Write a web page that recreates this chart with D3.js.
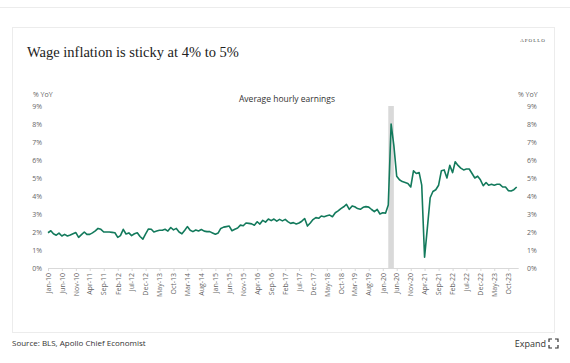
<!DOCTYPE html>
<html>
    <head>
        <meta charset="utf-8" />
        <title>Wage inflation is sticky at 4% to 5%</title>
        <script src="https://d3js.org/d3.v7.min.js"></script>
        <style>
            body {
                margin: 0;
                background: #fff;
            }
            * {
                font-family: 'Open Sans', 'Liberation Sans', sans-serif;
            }
            .tick-label {
                font-size: 7px;
                fill: #666;
            }
        </style>
    </head>
    <body>
        <svg id="chart" width="570" height="363"></svg>
        <script>
            // monthly series, Jan-10 .. Jan-24, % YoY
            const startMonth = '2010-01';
            const earnings = [
                1.96, 2.07, 1.9, 1.82, 1.94, 1.78, 1.87, 1.78, 1.83, 1.9, 1.97, 1.7,
                1.85, 2.0, 1.87, 1.87, 1.95, 2.06, 2.2, 2.15, 2.0, 2.0, 2.0, 1.98,
                1.96, 1.7, 1.8, 2.15, 1.89, 1.95, 1.8, 1.9, 1.96, 1.75, 1.6, 1.9,
                2.17, 2.15, 2.0, 2.05, 2.1, 2.1, 2.15, 2.05, 2.25, 2.12, 2.2, 2.0,
                1.9, 2.1, 2.3, 2.1, 2.02, 2.11, 2.06, 2.14, 2.05, 2.02, 2.02, 1.95,
                1.88, 1.95, 2.2, 2.27, 2.3, 2.33, 2.07, 2.15, 2.22, 2.38, 2.35, 2.5,
                2.48, 2.45, 2.38, 2.57, 2.44, 2.65, 2.55, 2.72, 2.63, 2.72, 2.6, 2.7,
                2.62, 2.7, 2.58, 2.48, 2.52, 2.45, 2.5, 2.6, 2.75, 2.33, 2.5, 2.69,
                2.8, 2.76, 2.89, 2.85, 2.9, 2.94, 2.85, 3.07, 3.17, 3.3, 3.4, 3.54,
                3.26, 3.45, 3.4, 3.3, 3.26, 3.37, 3.41, 3.38, 3.25, 3.13, 3.26, 3.0,
                3.07, 3.05, 3.5, 8.0, 6.8, 5.1, 4.9, 4.8, 4.75, 4.7, 4.5, 5.4,
                5.25, 5.3, 4.6, 0.6, 2.2, 3.9, 4.25, 4.35, 4.6, 5.4, 5.45, 5.0,
                5.7, 5.3, 5.9, 5.7, 5.55, 5.45, 5.5, 5.5, 5.25, 5.0, 5.1, 4.9,
                4.57, 4.75, 4.6, 4.65, 4.6, 4.65, 4.65, 4.5, 4.5, 4.3, 4.28, 4.35,
                4.5
            ];
            const recession = ['2020-03', '2020-04'];
            const yTicks = [0, 1, 2, 3, 4, 5, 6, 7, 8, 9];
            const tickEvery = 5; // months between x labels

            const title = 'Wage inflation is sticky at 4% to 5%';
            const subtitle = 'Average hourly earnings';
            const source = 'Source: BLS, Apollo Chief Economist';

            const parseMonth = d3.timeParse('%Y-%m');
            const start = parseMonth(startMonth);
            const data = earnings.map((v, i) => ({ date: d3.timeMonth.offset(start, i), value: v }));

            const svg = d3.select('#chart');

            // page frame
            svg.append('line').attr('x1', 0).attr('x2', 570).attr('y1', 7.5).attr('y2', 7.5).attr('stroke', '#ececec');
            svg.append('rect')
                .attr('x', 12.5).attr('y', 27.5).attr('width', 542).attr('height', 305)
                .attr('fill', '#fff').attr('stroke', '#ececec');

            svg.append('text')
                .attr('x', 27).attr('y', 57)
                .style('font-family', "'Liberation Serif', 'DejaVu Serif', serif")
                .style('font-size', '14.5px')
                .attr('fill', '#222')
                .text(title);

            svg.append('text')
                .attr('x', 533).attr('y', 42)
                .attr('text-anchor', 'middle')
                .style('font-family', "'Liberation Serif', serif")
                .style('font-size', '5px')
                .style('letter-spacing', '1px')
                .attr('fill', '#444')
                .text('APOLLO');

            const x = d3.scaleTime()
                .domain([start, data[data.length - 1].date])
                .range([48, 516.7]);
            const y = d3.scaleLinear().domain([0, 9]).range([268, 106]);

            // recession band
            const rs = parseMonth(recession[0]);
            const re = d3.timeMonth.offset(parseMonth(recession[1]), 1);
            svg.append('rect')
                .attr('x', x(rs)).attr('width', x(re) - x(rs))
                .attr('y', y(9)).attr('height', y(0) - y(9))
                .attr('fill', '#d9d9d9');

            // x axis
            const xTickDates = data.filter((d, i) => i % tickEvery === 0).map((d) => d.date);
            const xAxis = svg.append('g')
                .attr('transform', `translate(0,${y(0)})`)
                .call(d3.axisBottom(x).tickValues(xTickDates).tickSize(3).tickFormat(d3.timeFormat('%b-%y')));
            xAxis.select('.domain').attr('stroke', '#d9d9d9').attr('d', `M${x.range()[0]},0.5H${x.range()[1] + 2}`);
            xAxis.selectAll('.tick line').attr('stroke', '#d9d9d9');
            xAxis.selectAll('.tick text')
                .attr('class', 'tick-label')
                .attr('transform', 'rotate(-90)')
                .attr('text-anchor', 'end')
                .attr('x', -5).attr('y', 0).attr('dy', '0.32em');

            // y axes both sides
            const yLeft = svg.append('g').attr('transform', 'translate(42,0)')
                .call(d3.axisLeft(y).tickValues(yTicks).tickSize(0).tickPadding(0).tickFormat((d) => d + '%'));
            const yRight = svg.append('g').attr('transform', 'translate(527,0)')
                .call(d3.axisRight(y).tickValues(yTicks).tickSize(0).tickPadding(0).tickFormat((d) => d + '%'));
            [yLeft, yRight].forEach((g) => {
                g.select('.domain').remove();
                g.selectAll('.tick text').attr('class', 'tick-label');
            });

            svg.append('text').attr('class', 'tick-label').attr('x', 33).attr('y', 97).text('% YoY');
            svg.append('text').attr('class', 'tick-label').attr('x', 518).attr('y', 97).text('% YoY');

            svg.append('text')
                .attr('x', 287).attr('y', 102)
                .attr('text-anchor', 'middle')
                .style('font-size', '8.5px')
                .attr('fill', '#333')
                .text(subtitle);

            const line = d3.line()
                .x((d) => x(d.date))
                .y((d) => y(d.value));
            svg.append('path').datum(data)
                .attr('fill', 'none')
                .attr('stroke', '#137a5c')
                .attr('stroke-width', 1.6)
                .attr('stroke-linejoin', 'round')
                .attr('d', line);

            // footer
            svg.append('text')
                .attr('x', 12).attr('y', 346)
                .style('font-size', '8px')
                .attr('fill', '#333')
                .text(source);
            svg.append('text')
                .attr('x', 546).attr('y', 347)
                .attr('text-anchor', 'end')
                .style('font-size', '9px')
                .attr('fill', '#333')
                .text('Expand');
            const ic = svg.append('g').attr('stroke', '#333').attr('stroke-width', 1.2).attr('fill', 'none');
            [[549, 339, 1, 1], [558, 339, -1, 1], [549, 348, 1, -1], [558, 348, -1, -1]].forEach(([cx, cy, sx, sy]) => {
                ic.append('path').attr('d', `M${cx},${cy + sy * 3}V${cy}H${cx + sx * 3}`);
            });
        </script>
    </body>
</html>
